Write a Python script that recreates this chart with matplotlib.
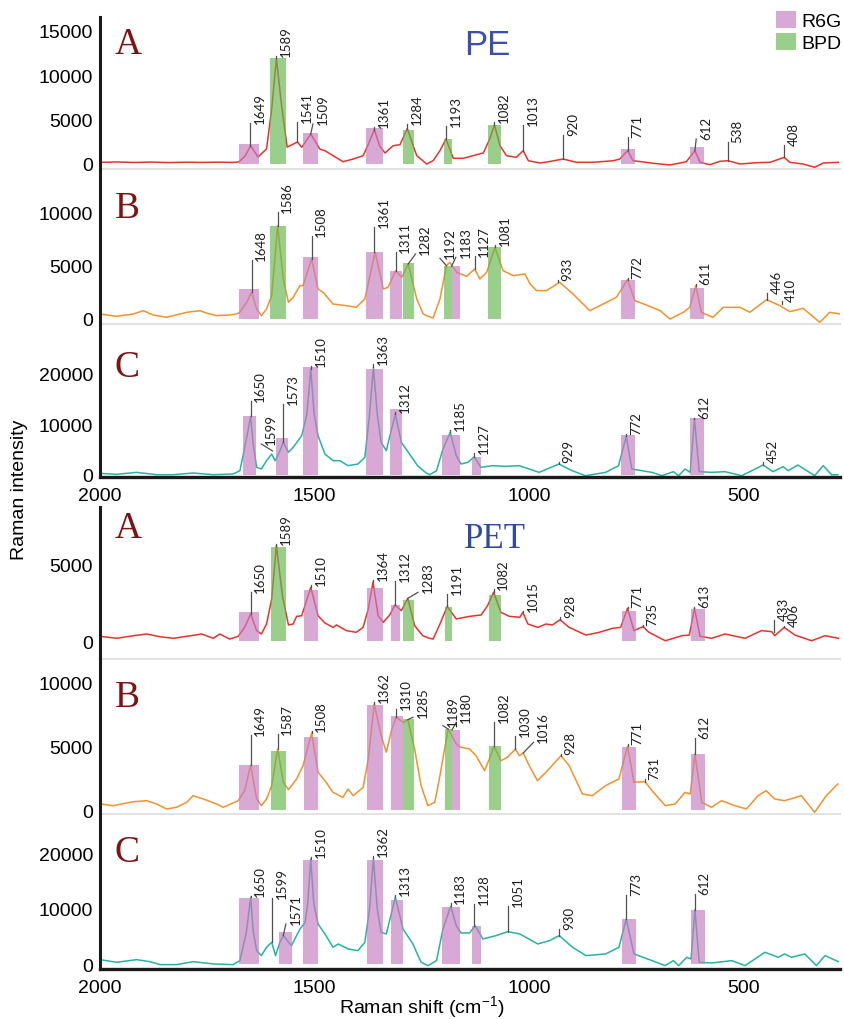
import matplotlib.pyplot as plt
from matplotlib.patches import Patch

plt.rcParams['font.family'] = ['Liberation Sans', 'DejaVu Sans']

# ---------------------------------------------------------------
# spectra: (Raman shift cm-1, intensity)
# ---------------------------------------------------------------
pe_a = [(2000, 190), (1960, 230), (1920, 170), (1880, 220), (1840, 160), (1800, 200),
        (1760, 180), (1720, 210), (1690, 170), (1676, 250), (1662, 900), (1649, 2060),
        (1632, 790), (1612, 1700), (1600, 6200), (1589, 11900), (1578, 7000), (1564, 1900),
        (1540, 2480), (1530, 1880), (1509, 3380), (1488, 1690), (1476, 1500), (1457, 940),
        (1434, 260), (1410, 560), (1387, 940), (1375, 2200), (1361, 3870), (1348, 2000),
        (1336, 1240), (1317, 2060), (1301, 2180), (1284, 4000), (1270, 2000), (1262, 940),
        (1239, 0), (1224, 370), (1208, 1500), (1194, 2820), (1177, 640), (1154, 640),
        (1131, 940), (1107, 1240), (1092, 2820), (1081, 4400), (1068, 2060), (1053, 940),
        (1030, 750), (1014, 1500), (1002, 370), (975, 110), (950, 300), (921, 560),
        (890, 190), (851, 190), (804, 370), (789, 560), (771, 1500), (758, 370), (711, 80),
        (672, -110), (634, 260), (614, 1500), (602, 190), (579, -80), (556, 300), (537, 370),
        (509, 0), (470, 150), (439, 190), (406, 750), (393, 190), (362, 0), (335, -370),
        (315, 110), (280, 190)]

pe_b = [(2000, 470), (1961, 250), (1922, 470), (1899, 780), (1876, 375), (1845, 156),
        (1798, 625), (1767, 780), (1752, 560), (1728, 310), (1690, 400), (1676, 560),
        (1658, 1560), (1647, 2500), (1635, 940), (1624, 310), (1612, 940), (1600, 2190),
        (1586, 8750), (1573, 3750), (1561, 1560), (1550, 2030), (1534, 3125), (1527, 3125),
        (1507, 5625), (1492, 2800), (1480, 2500), (1457, 1400), (1426, 1250), (1403, 1090),
        (1383, 1875), (1359, 6250), (1340, 2810), (1329, 2970), (1311, 4530), (1297, 3900),
        (1282, 5150), (1262, 1875), (1247, 470), (1239, 310), (1224, 90), (1208, 1875),
        (1193, 5000), (1185, 5310), (1169, 4375), (1146, 4000), (1127, 4690), (1115, 3750),
        (1099, 4375), (1080, 6720), (1061, 4530), (1037, 4060), (1010, 4220), (998, 3280),
        (983, 2660), (960, 2660), (929, 3440), (898, 2340), (859, 780), (828, 1400),
        (797, 2030), (771, 3690), (754, 1720), (727, 1310), (695, 780), (672, 0), (641, 625),
        (626, 1090), (612, 3125), (599, 625), (572, 156), (548, 1090), (509, 1090),
        (486, 625), (447, 1810), (416, 1250), (393, 690), (362, 1000), (323, -310),
        (300, 625), (276, 470)]

pe_c = [(2000, 260), (1961, 70), (1915, 460), (1868, 0), (1830, 0), (1783, 330), (1736, 0),
        (1690, 130), (1674, 790), (1659, 7080), (1649, 11580), (1643, 6000), (1635, 1460),
        (1624, 1130), (1612, 2780), (1600, 4100), (1592, 2780), (1584, 4100), (1573, 6420),
        (1561, 4440), (1550, 5430), (1530, 7750), (1518, 12000), (1509, 20990), (1501, 12000),
        (1492, 7750), (1476, 4100), (1457, 2780), (1441, 2780), (1422, 1790), (1399, 2120),
        (1383, 3440), (1372, 12000), (1363, 21320), (1354, 12000), (1345, 6420), (1333, 4770),
        (1312, 12050), (1298, 6420), (1279, 4100), (1260, 1790), (1240, 330), (1232, 0),
        (1216, 790), (1201, 5100), (1184, 8410), (1170, 3770), (1159, 2120), (1143, 2450),
        (1128, 3570), (1113, 1460), (1086, 1790), (1055, 1650), (1024, 1790), (1000, 1130),
        (977, 460), (931, 2120), (900, 790), (869, -200), (822, 460), (792, 1790),
        (774, 7610), (761, 1130), (714, 460), (691, -200), (664, 600), (652, -200),
        (637, 1130), (625, 460), (615, 11060), (604, 600), (575, 460), (544, 600),
        (505, -200), (455, 1920), (432, 600), (408, 1590), (397, 790), (374, 1920),
        (335, -200), (315, 1790), (296, 0), (281, 0)]

pet_a = [(2000, 330), (1961, 200), (1922, 370), (1891, 480), (1860, 300), (1829, 200),
         (1798, 330), (1763, 480), (1736, 200), (1721, 480), (1698, 150), (1678, 330),
         (1663, 910), (1649, 1780), (1635, 700), (1624, 480), (1612, 1130), (1600, 2760),
         (1589, 6240), (1575, 2980), (1561, 1070), (1550, 1130), (1542, 1630), (1530, 1670),
         (1509, 3520), (1492, 1670), (1476, 1200), (1457, 910), (1449, 1070), (1426, 700),
         (1403, 590), (1387, 910), (1375, 2110), (1364, 3850), (1352, 1670), (1340, 1240),
         (1325, 1720), (1313, 2370), (1298, 2000), (1283, 2800), (1267, 1020), (1248, 370),
         (1233, 200), (1224, 150), (1208, 1130), (1191, 2280), (1170, 1460), (1139, 1630),
         (1112, 1720), (1097, 2330), (1083, 3200), (1066, 1890), (1046, 1630), (1022, 1570),
         (1015, 1890), (1003, 1130), (980, 910), (961, 1130), (946, 1070), (928, 1410),
         (907, 910), (868, 410), (837, 590), (806, 850), (787, 910), (771, 2150), (756, 700),
         (735, 960), (721, 590), (683, 40), (644, 370), (627, 410), (615, 2150), (602, 330),
         (575, 200), (544, 480), (497, 200), (459, 700), (435, 630), (428, 370), (406, 910),
         (381, 410), (342, 40), (311, 370), (280, 200)]

pet_b = [(2000, 470), (1969, 340), (1922, 650), (1891, 730), (1868, 470), (1845, 80),
         (1822, 210), (1798, 600), (1783, 1120), (1759, 860), (1728, 470), (1713, 210),
         (1690, 550), (1678, 730), (1663, 1510), (1649, 3520), (1635, 860), (1624, 340),
         (1612, 860), (1600, 1910), (1586, 4780), (1573, 2170), (1561, 1590), (1542, 2430),
         (1527, 3470), (1507, 6030), (1492, 2950), (1476, 2300), (1457, 1380), (1434, 990),
         (1422, 1640), (1410, 1120), (1387, 1770), (1375, 3990), (1361, 8300), (1345, 5820),
         (1333, 4520), (1321, 6210), (1310, 7260), (1294, 6860), (1283, 7070), (1267, 4780),
         (1252, 1910), (1236, 340), (1220, 600), (1208, 2690), (1189, 6340), (1170, 5170),
         (1159, 4910), (1139, 4780), (1124, 4250), (1104, 3080), (1093, 3990), (1082, 4990),
         (1066, 3860), (1051, 4120), (1032, 4780), (1023, 4250), (1014, 4460), (1000, 3470),
         (981, 2300), (961, 2950), (926, 4250), (907, 3470), (876, 1250), (853, 1120),
         (822, 1910), (791, 2430), (771, 4990), (756, 2170), (730, 2220), (714, 1510),
         (683, 340), (660, 470), (637, 1380), (625, 1250), (614, 4380), (598, 600),
         (575, 210), (552, 730), (521, 340), (494, 80), (467, 1120), (448, 1510), (428, 860),
         (405, 730), (366, 1120), (335, -180), (308, 1120), (281, 2040)]

pet_c = [(2000, 840), (1961, 360), (1915, 840), (1884, 480), (1860, -60), (1822, -60),
         (1783, 480), (1736, 60), (1690, -60), (1674, 660), (1659, 5780), (1649, 12100),
         (1643, 6000), (1635, 2470), (1624, 1570), (1612, 3070), (1600, 3970), (1591, 1570),
         (1581, 3970), (1573, 5180), (1554, 3370), (1534, 6380), (1522, 7590), (1516, 11000),
         (1509, 19020), (1502, 11000), (1492, 7280), (1476, 5480), (1457, 3070), (1445, 3670),
         (1422, 2770), (1399, 2470), (1383, 3970), (1372, 10000), (1363, 19140), (1354, 10000),
         (1345, 5780), (1333, 5480), (1312, 12100), (1294, 6380), (1271, 3670), (1252, 360),
         (1236, -240), (1216, 660), (1201, 6380), (1183, 10470), (1170, 6980), (1159, 5660),
         (1139, 5660), (1126, 6980), (1108, 4580), (1077, 5180), (1050, 5900), (1022, 5480),
         (980, 3670), (953, 4270), (930, 5180), (899, 3070), (868, 1570), (822, 1870),
         (791, 3070), (774, 8190), (756, 1870), (714, 660), (683, -240), (664, 660),
         (652, -240), (633, 1260), (623, 960), (614, 9870), (604, 360), (575, 240),
         (528, 660), (497, -240), (451, 2170), (420, 1260), (405, 1870), (389, 1260),
         (358, 1870), (331, -240), (311, 1570), (280, 480)]

# ---------------------------------------------------------------
# highlighted bands: (dye, high cm-1, low cm-1, height)
# ---------------------------------------------------------------
pe_a_bars = [('R6G', 1676, 1629, 2255), ('BPD', 1604, 1567, 11920), ('R6G', 1526, 1492, 3460),
             ('R6G', 1381, 1340, 4100), ('BPD', 1295, 1269, 3870), ('BPD', 1198, 1181, 2820),
             ('BPD', 1096, 1066, 4400), ('R6G', 787, 754, 1690), ('R6G', 626, 592, 1950)]
pe_b_bars = [('R6G', 1676, 1629, 2810), ('BPD', 1604, 1567, 8690), ('R6G', 1526, 1492, 5780),
             ('R6G', 1381, 1340, 6310), ('R6G', 1325, 1297, 4530), ('BPD', 1295, 1269, 5250),
             ('BPD', 1198, 1181, 5000), ('R6G', 1181, 1161, 4940), ('BPD', 1096, 1066, 6720),
             ('R6G', 787, 754, 3690), ('R6G', 626, 592, 2900)]
pe_c_bars = [('R6G', 1668, 1637, 11720), ('R6G', 1590, 1561, 7220), ('R6G', 1526, 1492, 21320),
             ('R6G', 1381, 1340, 20990), ('R6G', 1325, 1297, 13040), ('R6G', 1204, 1161, 7880),
             ('R6G', 1134, 1113, 3440), ('R6G', 787, 754, 7880), ('R6G', 626, 592, 11190)]
pet_a_bars = [('R6G', 1676, 1629, 1890), ('BPD', 1601, 1567, 6130), ('R6G', 1525, 1492, 3370),
              ('R6G', 1379, 1340, 3480), ('R6G', 1323, 1301, 2370), ('BPD', 1294, 1269, 2720),
              ('BPD', 1196, 1181, 2260), ('BPD', 1094, 1066, 3040), ('R6G', 785, 752, 1960),
              ('R6G', 624, 591, 2110)]
pet_b_bars = [('R6G', 1676, 1629, 3520), ('BPD', 1601, 1567, 4650), ('R6G', 1525, 1492, 5690),
              ('R6G', 1379, 1340, 8220), ('R6G', 1323, 1295, 7390), ('BPD', 1294, 1269, 7130),
              ('BPD', 1196, 1179, 6340), ('R6G', 1179, 1161, 6260), ('BPD', 1094, 1066, 5040),
              ('R6G', 785, 752, 4910), ('R6G', 624, 591, 4380)]
pet_c_bars = [('R6G', 1676, 1629, 11920), ('R6G', 1582, 1553, 5780), ('R6G', 1526, 1492, 18840),
              ('R6G', 1379, 1340, 18840), ('R6G', 1323, 1295, 11680), ('R6G', 1204, 1161, 10410),
              ('R6G', 1133, 1113, 6980), ('R6G', 785, 752, 8190), ('R6G', 624, 591, 9870)]

# ---------------------------------------------------------------
# peak labels: (text, x at peak, y at peak, x at label, y at label)
# ---------------------------------------------------------------
pe_a_peaks = [('1649', 1651, 2060, 1651, 4620), ('1589', 1589, 11900, 1589, 12200),
              ('1541', 1540, 2480, 1540, 4740), ('1509', 1509, 3380, 1504, 4510),
              ('1361', 1361, 3870, 1361, 4170), ('1284', 1284, 4000, 1284, 4510),
              ('1193', 1193, 2820, 1193, 4320), ('1082', 1081, 4400, 1081, 4700),
              ('1013', 1014, 1500, 1014, 4400), ('920', 921, 560, 921, 3270),
              ('771', 771, 1500, 771, 3010), ('612', 614, 1500, 611, 2820),
              ('538', 537, 370, 537, 2520), ('408', 406, 750, 406, 2180)]
pe_b_peaks = [('1648', 1647, 2500, 1647, 5560), ('1586', 1586, 8750, 1586, 10060),
              ('1508', 1507, 5625, 1507, 7810), ('1361', 1361, 6250, 1361, 8590),
              ('1311', 1311, 4530, 1311, 6310), ('1282', 1282, 5150, 1265, 6090),
              ('1192', 1193, 5000, 1208, 5690), ('1183', 1181, 4940, 1171, 5780),
              ('1127', 1127, 4690, 1127, 5870), ('1081', 1080, 6720, 1080, 6900),
              ('933', 933, 3440, 933, 3690), ('772', 771, 3690, 771, 3850),
              ('611', 612, 3125, 612, 3250), ('446', 446, 1810, 446, 2440),
              ('410', 412, 1400, 412, 1650)]
pe_c_peaks = [('1650', 1649, 11580, 1649, 14700), ('1599', 1598, 4700, 1624, 6090),
              ('1573', 1573, 6420, 1573, 14030), ('1510', 1509, 20990, 1509, 21500),
              ('1363', 1363, 21320, 1363, 21900), ('1312', 1312, 12050, 1312, 12400),
              ('1185', 1184, 8410, 1184, 8900), ('1127', 1128, 3570, 1128, 4300),
              ('929', 931, 2120, 931, 2450), ('772', 774, 7610, 774, 8000),
              ('612', 615, 11060, 615, 11350), ('452', 455, 1920, 455, 2450)]
pet_a_peaks = [('1650', 1649, 1780, 1649, 3200), ('1589', 1589, 6240, 1589, 6350),
               ('1510', 1509, 3520, 1509, 3670), ('1364', 1364, 3850, 1364, 4000),
               ('1312', 1312, 2370, 1312, 3960), ('1283', 1283, 2800, 1259, 3200),
               ('1191', 1191, 2280, 1191, 3090), ('1082', 1083, 3200, 1083, 3400),
               ('1015', 1015, 1890, 1015, 2000), ('928', 928, 1410, 928, 1570),
               ('771', 771, 2150, 771, 2220), ('735', 735, 960, 735, 1070),
               ('613', 615, 2150, 615, 2220), ('433', 430, 630, 430, 1410),
               ('406', 406, 910, 406, 980)]
pet_b_peaks = [('1649', 1649, 3520, 1649, 5870), ('1587', 1586, 4780, 1586, 5950),
               ('1508', 1507, 6030, 1507, 6200), ('1362', 1361, 8300, 1361, 8450),
               ('1310', 1310, 7260, 1310, 7910), ('1285', 1283, 7070, 1271, 7260),
               ('1189', 1189, 6340, 1201, 6600), ('1180', 1180, 6260, 1170, 6860),
               ('1082', 1082, 4990, 1082, 6860), ('1030', 1032, 4780, 1032, 5820),
               ('1016', 1014, 4460, 990, 5300), ('928', 926, 4250, 926, 4400),
               ('771', 771, 4990, 771, 5200), ('731', 730, 2220, 730, 2400),
               ('612', 614, 4380, 614, 5610)]
pet_c_peaks = [('1650', 1649, 12100, 1649, 12400), ('1599', 1599, 3970, 1599, 11920),
               ('1571', 1573, 5180, 1567, 7280), ('1510', 1509, 19020, 1509, 19320),
               ('1362', 1363, 19140, 1363, 19620), ('1313', 1312, 12100, 1312, 12600),
               ('1183', 1183, 10470, 1183, 11000), ('1128', 1128, 6980, 1128, 10900),
               ('1051', 1050, 5900, 1050, 10470), ('930', 930, 5180, 930, 6400),
               ('773', 774, 8190, 774, 12520), ('612', 614, 9870, 614, 12700)]

x_ticks = [2000, 1500, 1000, 500]

# ---------------------------------------------------------------
W, H = 845, 1020
RED, ORANGE, TEAL = '#e8332c', '#f2922d', '#27b3a3'
BAR_COL = {'R6G': '#c47bbd', 'BPD': '#63b64b'}
BAR_ALPHA = 0.65
LETTER_COL = '#7d1414'

# (spectrum, bars, peaks, colour, (top px, bottom px), ylim, yticks, letter, letter baseline px, bottom panel?)
panels = [
    (pe_a, pe_a_bars, pe_a_peaks, RED, (18, 170), (-564, 16578), [0, 5000, 10000, 15000], 'A', 54, False),
    (pe_b, pe_b_bars, pe_b_peaks, ORANGE, (170, 325), (-470, 14060), [0, 5000, 10000], 'B', 218, False),
    (pe_c, pe_c_bars, pe_c_peaks, TEAL, (325, 478), (-460, 29930), [0, 10000, 20000], 'C', 377, True),
    (pet_a, pet_a_bars, pet_a_peaks, RED, (508, 660), (-1150, 8760), [0, 5000], 'A', 538, False),
    (pet_b, pet_b_bars, pet_b_peaks, ORANGE, (660, 815), (-313, 11820), [0, 5000, 10000], 'B', 707, False),
    (pet_c, pet_c_bars, pet_c_peaks, TEAL, (815, 970), (-850, 27150), [0, 10000, 20000], 'C', 862, True),
]

fig = plt.figure(figsize=(W / 100, H / 100), dpi=100)

for spec, bars, peaks, col, (top, bot), ylim, yticks, letter, let_y, is_bottom in panels:
    ax = fig.add_axes([100 / W, 1 - bot / H, 740 / W, (bot - top) / H])
    ax.set_xlim(2000, 276)
    ax.set_ylim(*ylim)

    xs = [p[0] for p in spec]
    ys = [p[1] for p in spec]
    ax.plot(xs, ys, color=col, lw=1.1, zorder=2)

    for kind, hi, lo, h in bars:
        ax.bar((hi + lo) / 2, h, width=hi - lo, color=BAR_COL[kind], alpha=BAR_ALPHA,
               linewidth=0, zorder=3)

    for lab, x0, y0, x1, y1 in peaks:
        ax.plot([x0, x1], [y0, y1], color='#505050', lw=0.9, zorder=4)
        ax.annotate(lab, xy=(x1, y1), xytext=(2.6, 0), textcoords='offset points',
                    rotation=90, ha='left', va='bottom', fontsize=9.5,
                    family=['Lato', 'DejaVu Sans'], color='#1e1e1e', zorder=5)

    for s in ('top', 'right'):
        ax.spines[s].set_visible(False)
    ax.spines['left'].set_linewidth(2.2)
    ax.spines['left'].set_color('#1a1a1a')
    ax.set_yticks(yticks)
    ax.set_yticklabels([str(t) for t in yticks])
    ax.tick_params(axis='y', length=0, pad=5, labelsize=14)

    if is_bottom:
        ax.spines['bottom'].set_linewidth(2.4)
        ax.spines['bottom'].set_color('#1a1a1a')
        ax.set_xticks(x_ticks)
        ax.set_xticklabels([str(t) for t in x_ticks])
        ax.tick_params(axis='x', length=0, pad=7, labelsize=14)
    else:
        ax.spines['bottom'].set_linewidth(1.4)
        ax.spines['bottom'].set_color('#e2e2e2')
        ax.set_xticks([])
    ax.patch.set_alpha(0)

    fig.text(115 / W, 1 - let_y / H, letter, fontsize=27, color=LETTER_COL,
             family='Liberation Serif', ha='left', va='baseline')

# group titles
fig.text(487 / W, 1 - 55 / H, 'PE', fontsize=25, color='#3b4fae', ha='center', va='baseline')
fig.text(495 / W, 1 - 548 / H, 'PET', fontsize=25, color='#2f4a9f', family='Liberation Serif',
         ha='center', va='baseline')

# legend
handles = [Patch(facecolor=BAR_COL[k], alpha=BAR_ALPHA, linewidth=0) for k in ('R6G', 'BPD')]
fig.legend(handles, ['R6G', 'BPD'], loc='upper left', bbox_to_anchor=(776 / W, 1 - 12 / H),
           frameon=False, fontsize=14, handlelength=1.05, handleheight=0.95,
           handletextpad=0.25, labelspacing=0.15, borderpad=0, borderaxespad=0)

fig.text(20 / W, 1 - 490 / H, 'Raman intensity', rotation=90, fontsize=14,
         ha='center', va='center')
fig.text(422 / W, 1 - 1008 / H, r'Raman shift (cm$^{\mathregular{-1}}$)', fontsize=14,
         ha='center', va='center')

fig.savefig('out.png', dpi=100)
